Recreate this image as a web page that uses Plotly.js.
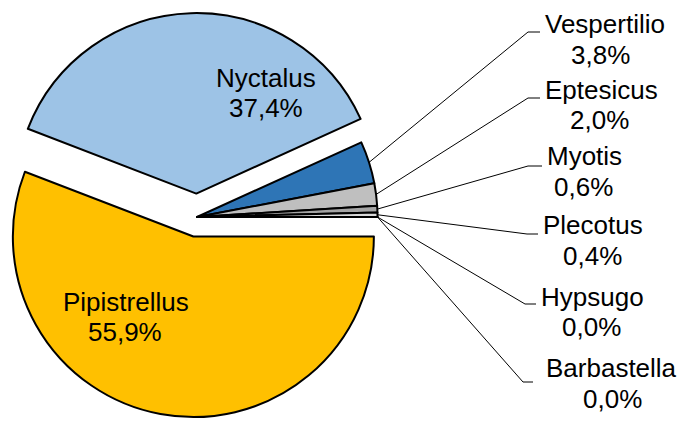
<!DOCTYPE html>
<html>
<head>
<meta charset="utf-8">
<script src="https://cdn.plot.ly/plotly-3.0.1.min.js"></script>
<style>
  html, body { margin: 0; padding: 0; background: #ffffff; overflow: hidden; }
  #chart { width: 689px; height: 421px; margin-left: -8px; }
</style>
</head>
<body>
<div id="chart"></div>
<script>
// ---- data ----
const categories = ['Pipistrellus', 'Nyctalus', 'Vespertilio', 'Eptesicus', 'Myotis', 'Plecotus', 'Hypsugo', 'Barbastella'];
const values = [55.9, 37.4, 3.8, 2.0, 0.6, 0.4, 0.0, 0.0];
const sliceColors = ['#FFC000', '#9DC3E6', '#2E75B6', '#BFBFBF', '#A5A5A5', '#D9D9D9', '#7F7F7F', '#595959'];
const pulls = [0.11, 0.13, 0, 0, 0, 0, 0, 0];

// ---- layout (pixel positions in the 681x421 window) ----
const OFF = 8;               // plot div is shifted 8px left so the pie can sit close to the edge
const W = 681 + OFF, H = 421;
const domX = [0.00145, 0.5936], domY = [0, 0.969];
const namePos = [[126, 302], [266, 78], [605, 24], [601, 90], [584, 156], [593, 225], [592, 297], [611, 368]];
const pctPos  = [[125, 332], [266, 108], [600, 55], [599, 120], [583, 187], [592, 256], [591, 327], [612, 399]];
// leader elbows for outside-labelled slices (index 2..7)
const elbows = [null, null, [528, 32], [528, 98], [528, 166], [527, 234], [525, 304], [523, 382]];
const elbowEndX = [null, null, 540, 540, 542, 538, 536, 533];

const FONT = 'Liberation Sans, Arial, sans-serif';
const px = x => (x + OFF) / W;
const py = y => 1 - y / H;

// pie geometry, same formula as plotly uses (in div pixels)
const maxPull = Math.max.apply(null, pulls);
const boxW = W * (domX[1] - domX[0]);
const boxH = H * (domY[1] - domY[0]);
const R = Math.min(boxW, boxH) / (2 + 2 * maxPull);
const CX = W * (domX[0] + domX[1]) / 2;
const CY = H * (1 - domY[0]) - boxH / 2;
const total = values.reduce((a, b) => a + b, 0);

const annotations = [];
const shapes = [];
let cum = 0;
categories.forEach((c, i) => {
  const pctText = values[i].toFixed(1).replace('.', ',') + '%';
  annotations.push({
    xref: 'paper', yref: 'paper', x: px(namePos[i][0]), y: py(namePos[i][1]),
    xanchor: 'center', yanchor: 'middle', showarrow: false, text: c,
    font: { family: FONT, size: 26, color: '#000000' }
  });
  annotations.push({
    xref: 'paper', yref: 'paper', x: px(pctPos[i][0]), y: py(pctPos[i][1]),
    xanchor: 'center', yanchor: 'middle', showarrow: false, text: pctText,
    font: { family: FONT, size: 26, color: '#000000' }
  });
  const mid = 2 * Math.PI * (cum + values[i] / 2) / total;
  cum += values[i];
  if (elbows[i]) {
    const sx = CX + R * Math.cos(mid);   // div pixels
    const sy = CY + R * Math.sin(mid);
    shapes.push({
      type: 'line', xref: 'paper', yref: 'paper',
      x0: sx / W, y0: py(sy), x1: px(elbows[i][0]), y1: py(elbows[i][1]),
      line: { color: '#000000', width: 1 }
    });
    shapes.push({
      type: 'line', xref: 'paper', yref: 'paper',
      x0: px(elbows[i][0]), y0: py(elbows[i][1]), x1: px(elbowEndX[i]), y1: py(elbows[i][1]),
      line: { color: '#000000', width: 1 }
    });
  }
});

const trace = {
  type: 'pie',
  labels: categories,
  values: values,
  sort: false,
  direction: 'clockwise',
  rotation: 90,
  pull: pulls,
  textinfo: 'none',
  hoverinfo: 'label+percent',
  marker: { colors: sliceColors, line: { color: '#000000', width: 2 } },
  domain: { x: domX, y: domY },
  showlegend: false
};

const layout = {
  width: W, height: H,
  margin: { l: 0, r: 0, t: 0, b: 0, pad: 0 },
  paper_bgcolor: '#ffffff',
  plot_bgcolor: '#ffffff',
  showlegend: false,
  annotations: annotations,
  shapes: shapes
};

Plotly.newPlot('chart', [trace], layout, { displayModeBar: false, staticPlot: true });
</script>
</body>
</html>
